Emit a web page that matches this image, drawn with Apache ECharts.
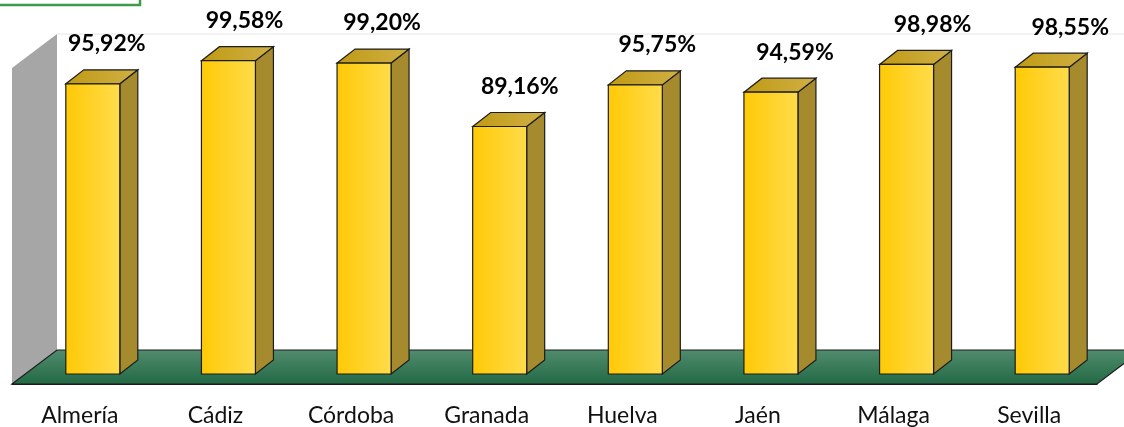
<!DOCTYPE html>
<html>
<head>
<meta charset="utf-8">
<script src="https://cdn.jsdelivr.net/npm/echarts@6/dist/echarts.min.js"></script>
<style>
  html,body{margin:0;padding:0;background:#fff;}
  #main{width:1124px;height:427px;}
</style>
</head>
<body>
<div id="main"></div>
<script>
var provincias=["Almería","Cádiz","Córdoba","Granada","Huelva","Jaén","Málaga","Sevilla"];
var porcentajes=[95.92,99.58,99.20,89.16,95.75,94.59,98.98,98.55];
var yMin=50;
var yMax=100;

function fmt(v){
    return v.toFixed(2).replace(".",",")+"%";
}

// profundidad del suelo y de las barras
var floorDx=45, floorDy=-34;
var barDx0=13, barDy0=-10;
var barDx=18, barDy=-14;
var barW=54;

function renderBar(params,api){
    var idx=api.value(0);
    var val=api.value(1);
    var base=api.coord([idx,yMin]);
    var top=api.coord([idx,val]);
    var fl=base[0]-14;
    var fr=fl+barW;
    var fb=base[1]+barDy0;
    var ft=top[1]+barDy0;
    var line="#1c1c1c";
    var lx=(fl+fr)/2+barDx/2+5+2*idx;
    return {
        type:"group",
        children:[
            {
                type:"polygon",
                shape:{points:[[fr,fb],[fr,ft],[fr+barDx,ft+barDy],[fr+barDx,fb+barDy]]},
                style:{fill:"#A68B2E",stroke:line,lineWidth:1.2}
            },
            {
                type:"polygon",
                shape:{points:[[fl,ft],[fl+barDx,ft+barDy],[fr+barDx,ft+barDy],[fr,ft]]},
                style:{
                    fill:new echarts.graphic.LinearGradient(0,0,1,0,[
                        {offset:0,color:"#BF9A14"},
                        {offset:1,color:"#D1B045"}
                    ]),
                    stroke:line,lineWidth:1.2
                }
            },
            {
                type:"rect",
                shape:{x:fl,y:ft,width:barW,height:fb-ft},
                style:{
                    fill:new echarts.graphic.LinearGradient(0,0,1,0,[
                        {offset:0,color:"#FFC905"},
                        {offset:1,color:"#FFDC4C"}
                    ]),
                    stroke:line,lineWidth:1.2
                }
            },
            {
                type:"text",
                x:lx,
                y:ft+barDy-26,
                style:{
                    text:fmt(val),
                    fill:"#000",
                    font:"bold 23px Lato, 'Noto Sans', sans-serif",
                    align:"center",
                    verticalAlign:"middle"
                }
            }
        ]
    };
}

function renderFloor(params,api){
    var cs=params.coordSys;
    var x0=cs.x, x1=cs.x+cs.width;
    var yb=cs.y+cs.height, yt=cs.y;
    return {
        type:"group",
        children:[
            {
                type:"line",
                shape:{x1:x0+floorDx,y1:yt+floorDy,x2:1124,y2:yt+floorDy},
                style:{stroke:"#e6e6e6",lineWidth:1}
            },
            {
                type:"polygon",
                shape:{points:[[x0,yb],[x0,yt],[x0+floorDx,yt+floorDy],[x0+floorDx,yb+floorDy]]},
                style:{fill:"#A6A6A6"}
            },
            {
                type:"polygon",
                shape:{points:[[x0,yb],[x0+floorDx,yb+floorDy],[x1+floorDx,yb+floorDy],[x1,yb]]},
                style:{
                    fill:new echarts.graphic.LinearGradient(0,0,0,1,[
                        {offset:0,color:"#518C6E"},
                        {offset:1,color:"#226944"}
                    ]),
                    stroke:"#1c1c1c",lineWidth:1.2
                }
            }
        ]
    };
}

function createChart(){
    var myChart=echarts.init(document.getElementById("main"));
    var barData=[];
    porcentajes.forEach(function(v,i){
        barData.push([i,v]);
    });
    var option={
        animation:false,
        grid:{left:12,right:27,top:68,bottom:43},
        graphic:[
            {
                type:"rect",
                shape:{x:-10,y:-10,width:150,height:15},
                style:{fill:"none",stroke:"#3C9A48",lineWidth:2.5}
            }
        ],
        xAxis:{
            type:"category",
            data:provincias,
            axisLine:{lineStyle:{color:"#1c1c1c",width:1.2}},
            axisTick:{length:8,lineStyle:{color:"#1c1c1c"}},
            axisLabel:{
                color:"#111",
                fontSize:23,
                fontFamily:"Lato, 'Noto Sans', sans-serif",
                margin:20
            }
        },
        yAxis:{
            type:"value",
            min:yMin,
            max:yMax,
            show:false,
            splitLine:{show:false}
        },
        series:[
            {
                type:"custom",
                renderItem:renderFloor,
                data:[[0,yMin]],
                z:1,
                silent:true
            },
            {
                type:"custom",
                renderItem:renderBar,
                data:barData,
                encode:{x:0,y:1},
                z:2
            }
        ]
    };
    myChart.setOption(option);
}

createChart();
</script>
</body>
</html>
